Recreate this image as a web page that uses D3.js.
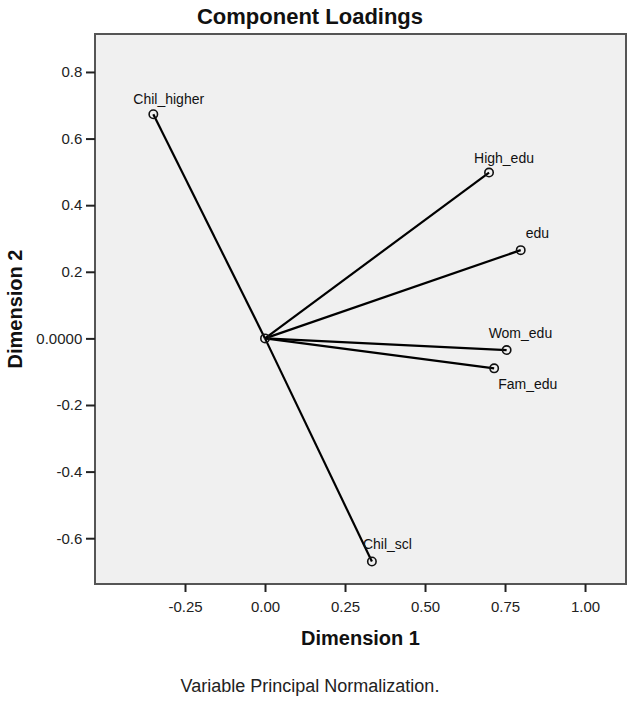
<!DOCTYPE html>
<html><head><meta charset="utf-8">
<script src="https://cdn.jsdelivr.net/npm/d3@7"></script>
<style>
html,body{margin:0;padding:0;background:#fff;}
svg text{font-family:"Liberation Sans",Arial,sans-serif;}
</style></head>
<body><svg id="c" width="634" height="702"></svg>
<script>
// Data
const variables = ["Chil_higher","High_edu","edu","Wom_edu","Fam_edu","Chil_scl"];
const dim1 = [-0.349, 0.700, 0.799, 0.755, 0.716, 0.334];
const dim2 = [0.673, 0.498, 0.265, -0.035, -0.090, -0.670];
const xTicks = [-0.25, 0, 0.25, 0.5, 0.75, 1.0];
const xTickLabels = ["-0.25","0.00","0.25","0.50","0.75","1.00"];
const yTicks = [0.8, 0.6, 0.4, 0.2, 0, -0.2, -0.4, -0.6];
const yTickLabels = ["0.8","0.6","0.4","0.2","0.0000","-0.2","-0.4","-0.6"];
// label placement offsets (layout)
const labelDx = [-20, -15, 5, -18, 4, -9];
const labelDy = [-10, -10, -12, -12, 21, -13];

const svg = d3.select("#c");
const L = 95, R = 626, T = 34, B = 584;
const x = d3.scaleLinear().domain([-0.53125, 1.128]).range([L, R]);
const y = d3.scaleLinear().domain([0.914, -0.7375]).range([T, B]);

svg.append("rect").attr("x", L).attr("y", T).attr("width", R - L).attr("height", B - T)
  .attr("fill", "#f0f0f0").attr("stroke", "#555").attr("stroke-width", 2);

const xAxis = svg.append("g").attr("transform", `translate(0,${B})`)
  .call(d3.axisBottom(x).tickValues(xTicks).tickSize(8).tickFormat((d, i) => xTickLabels[i]));
const yAxis = svg.append("g").attr("transform", `translate(${L},0)`)
  .call(d3.axisLeft(y).tickValues(yTicks).tickSize(9).tickFormat((d, i) => yTickLabels[i]));
[xAxis, yAxis].forEach(g => {
  g.select(".domain").remove();
  g.selectAll(".tick line").attr("stroke", "#222").attr("stroke-width", 2);
  g.selectAll(".tick text").attr("font-size", 15).attr("fill", "#222")
    .attr("font-family", "'Liberation Sans',Arial,sans-serif");
});
xAxis.selectAll(".tick text").attr("dy", "1.15em");
yAxis.selectAll(".tick text").attr("dx", "-0.05em");

const data = variables.map((v, i) => ({v, a: dim1[i], b: dim2[i], dx: labelDx[i], dy: labelDy[i]}));

svg.append("g").selectAll("line").data(data).join("line")
  .attr("x1", x(0)).attr("y1", y(0)).attr("x2", d => x(d.a)).attr("y2", d => y(d.b))
  .attr("stroke", "#000").attr("stroke-width", 2.2);

svg.append("circle").attr("cx", x(0)).attr("cy", y(0)).attr("r", 4.2)
  .attr("fill", "none").attr("stroke", "#111").attr("stroke-width", 1.6);
svg.append("g").selectAll("circle").data(data).join("circle")
  .attr("cx", d => x(d.a)).attr("cy", d => y(d.b)).attr("r", 4.2)
  .attr("fill", "none").attr("stroke", "#111").attr("stroke-width", 1.6);

svg.append("g").selectAll("text").data(data).join("text")
  .attr("x", d => x(d.a) + d.dx).attr("y", d => y(d.b) + d.dy)
  .attr("font-size", 14).attr("fill", "#111").text(d => d.v);

svg.append("text").attr("x", 310).attr("y", 24).attr("text-anchor", "middle")
  .attr("font-size", 22).attr("font-weight", "bold").attr("fill", "#111").text("Component Loadings");
svg.append("text").attr("x", (L + R) / 2).attr("y", 645).attr("text-anchor", "middle")
  .attr("font-size", 20).attr("font-weight", "bold").attr("fill", "#111").text("Dimension 1");
svg.append("text").attr("transform", `translate(22,${(T + B) / 2}) rotate(-90)`)
  .attr("text-anchor", "middle")
  .attr("font-size", 20).attr("font-weight", "bold").attr("fill", "#111").text("Dimension 2");
svg.append("text").attr("x", 310).attr("y", 692).attr("text-anchor", "middle")
  .attr("font-size", 18).attr("fill", "#222").text("Variable Principal Normalization.");
</script></body></html>
